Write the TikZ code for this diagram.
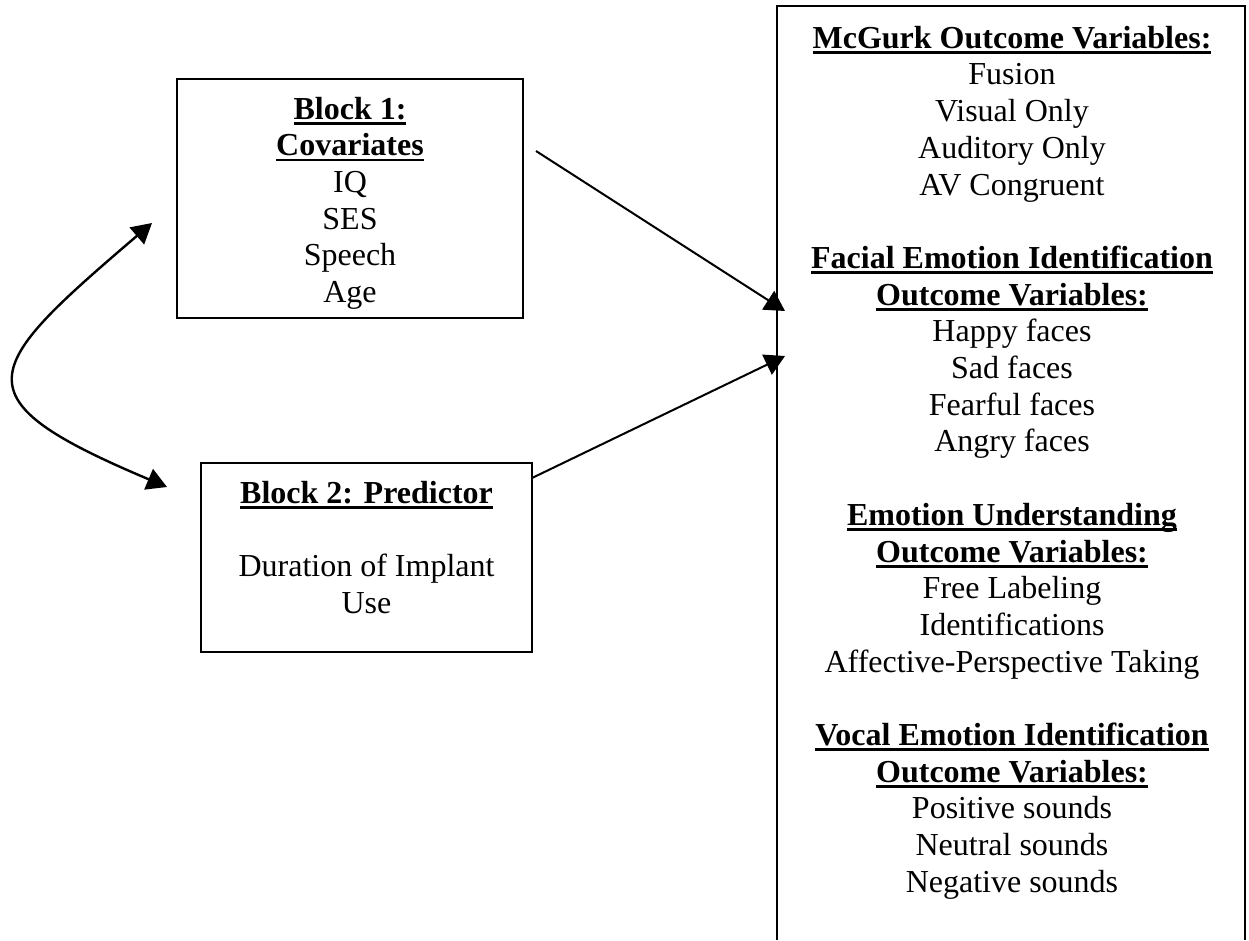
\documentclass[tikz,border=0pt]{standalone}
\usepackage{fontspec}
\setmainfont{Liberation Serif}
\usetikzlibrary{arrows.meta}
\newcommand{\ulb}[1]{\setbox0\hbox{\bfseries #1}\rlap{\rule[-5.5pt]{\wd0}{2.8pt}}\box0}
\tikzset{
  txt/.style={inner sep=0pt, align=center, anchor=north, font=\fontsize{32pt}{36.7pt}\selectfont},
  frame/.style={draw, line width=2.2pt, inner sep=0pt},
  conn/.style={line width=2pt, -{Triangle[length=20pt,width=22pt]}},
  curv/.style={line width=2.4pt, {Triangle[length=20pt,width=22pt]}-{Triangle[length=20pt,width=22pt]}}
}
\begin{document}
\begin{tikzpicture}[x=1pt,y=-1pt]
\useasboundingbox (0,0) rectangle (1249,940);
\fill[white] (0,0) rectangle (1249,940);

% Block 1
\node[frame, minimum width=346pt, minimum height=239pt] (b1) at (350,198.5) {};
\node[txt] (b1text) at (350,93.3) {\strut\ulb{Block 1:}\\ \ulb{Covariates}\\ IQ\\ SES\\ Speech\\ Age};

% Block 2
\node[frame, minimum width=331pt, minimum height=189pt] (b2) at (366.5,557.5) {};
\node[txt] (b2text) at (366.5,477.3) {\strut\ulb{Block 2: Predictor}\\[36.7pt] Duration of Implant\\ Use};

% Outcome box (open at bottom)
\coordinate (obl) at (777,940);
\coordinate (otl) at (777,6);
\coordinate (otr) at (1245,6);
\coordinate (obr) at (1245,940);
\draw[line width=2.8pt] (obl) -- (otl) -- (otr) -- (obr);
\node[txt] (out) at (1012,22.3) {\strut\ulb{McGurk Outcome Variables:}\\ Fusion\\ Visual Only\\ Auditory Only\\ AV Congruent\\[36.7pt]
\ulb{Facial Emotion Identification}\\ \ulb{Outcome Variables:}\\ Happy faces\\ Sad faces\\ Fearful faces\\ Angry faces\\[36.7pt]
\ulb{Emotion Understanding}\\ \ulb{Outcome Variables:}\\ Free Labeling\\ Identifications\\ Affective-Perspective Taking\\[36.7pt]
\ulb{Vocal Emotion Identification}\\ \ulb{Outcome Variables:}\\ Positive sounds\\ Neutral sounds\\ Negative sounds};

% connectors
\coordinate (b1out) at (536,151);
\coordinate (in1) at (785,311);
\coordinate (b2out) at (532,478);
\coordinate (in2) at (785,356);
\draw[conn] (b1out) -- (in1);
\draw[conn] (b2out) -- (in2);

\coordinate (c1) at (152,223);
\coordinate (c2) at (167,487);
\draw[curv] (c1) .. controls (-20,370) and (-44,398) .. (c2);
\end{tikzpicture}
\end{document}
